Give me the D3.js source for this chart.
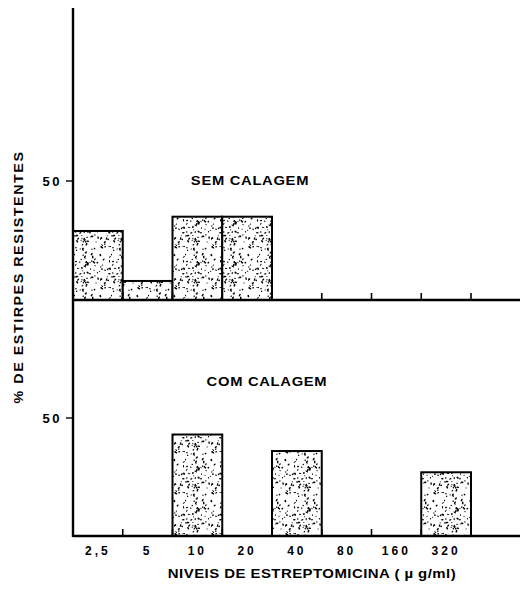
<!DOCTYPE html>
<html>
<head>
<meta charset="utf-8">
<script src="https://cdn.jsdelivr.net/npm/d3@7"></script>
<style>
  body { margin: 0; background: #fff; }
  svg text { font-family: "Liberation Sans", Arial, sans-serif; font-weight: bold; fill: #000; }
</style>
</head>
<body>
<svg id="chart" width="520" height="593"></svg>
<script>
// streptomycin levels (ug/ml)
const levels = ["2,5", "5", "10", "20", "40", "80", "160", "320"];
// % resistant strains, without liming
const semCalagem = [29, 8, 35, 35, 0, 0, 0, 0];
// % resistant strains, with liming
const comCalagem = [0, 0, 43, 0, 36, 0, 0, 27];
const yTicks = [50];

const svg = d3.select("#chart");

// stipple texture for the bars
const defs = svg.append("defs");
const pat = defs.append("pattern")
    .attr("id", "stipple")
    .attr("patternUnits", "userSpaceOnUse")
    .attr("width", 37).attr("height", 41);
pat.append("rect").attr("width", 37).attr("height", 41).attr("fill", "#fff");
const rnd = d3.randomLcg(0.37);
for (let i = 0; i < 95; i++) {
    const cx = rnd() * 37, cy = rnd() * 41;
    const w = 0.9 + rnd() * 2.2, h = 0.9 + rnd() * 0.9;
    pat.append("ellipse")
        .attr("cx", cx).attr("cy", cy)
        .attr("rx", w / 2).attr("ry", h / 2)
        .attr("transform", `rotate(${rnd() * 180},${cx},${cy})`)
        .attr("fill", "#000");
}

const x0 = 73, axisEnd = 520;
const x = d3.scaleBand().domain(levels).range([x0, 471]).padding(0);

const panels = [
    { values: semCalagem, y: d3.scaleLinear().domain([0, 50]).range([300, 181]), label: "SEM CALAGEM", lx: 250, ly: 181 },
    { values: comCalagem, y: d3.scaleLinear().domain([0, 50]).range([536, 418]), label: "COM CALAGEM", lx: 267, ly: 382 }
];

panels.forEach(p => {
    const g = svg.append("g");
    const base = p.y(0);

    // bars
    g.selectAll("rect.bar")
        .data(levels.map((l, i) => ({ l, v: p.values[i] })).filter(d => d.v > 0))
        .enter().append("rect")
        .attr("class", "bar")
        .attr("x", d => x(d.l))
        .attr("width", x.bandwidth())
        .attr("y", d => p.y(d.v))
        .attr("height", d => base - p.y(d.v))
        .attr("fill", "url(#stipple)")
        .attr("stroke", "#000")
        .attr("stroke-width", 2);

    // baseline
    g.append("line")
        .attr("x1", x0).attr("x2", axisEnd)
        .attr("y1", base).attr("y2", base)
        .attr("stroke", "#000").attr("stroke-width", 2.4);

    // small upward ticks at bin boundaries
    g.selectAll("line.tick")
        .data(levels.slice(1).map(l => x(l)).concat([x.range()[1]]))
        .enter().append("line")
        .attr("class", "tick")
        .attr("x1", d => d).attr("x2", d => d)
        .attr("y1", base).attr("y2", base - 7)
        .attr("stroke", "#000").attr("stroke-width", 1.6);

    // y ticks
    yTicks.forEach(t => {
        g.append("line")
            .attr("x1", x0 - 7).attr("x2", x0)
            .attr("y1", p.y(t)).attr("y2", p.y(t))
            .attr("stroke", "#000").attr("stroke-width", 1.4);
        g.append("text")
            .attr("x", 62).attr("y", p.y(t))
            .attr("dy", "0.36em")
            .attr("text-anchor", "end")
            .style("font-size", "13px")
            .style("letter-spacing", "2.5px")
            .text(t);
    });

    g.append("text")
        .attr("x", p.lx).attr("y", p.ly)
        .attr("dy", "0.36em")
        .attr("text-anchor", "middle")
        .style("font-size", "12.5px")
        .style("letter-spacing", "0.6px")
        .attr("transform", `translate(${p.lx},0) scale(1.18,1) translate(${-p.lx},0)`)
        .text(p.label);
});

// y axis line
svg.append("line")
    .attr("x1", x0).attr("x2", x0)
    .attr("y1", 8).attr("y2", 537)
    .attr("stroke", "#000").attr("stroke-width", 2.4);

// x tick labels
svg.selectAll("text.xl")
    .data(levels)
    .enter().append("text")
    .attr("class", "xl")
    .attr("x", d => x(d) + x.bandwidth() / 2)
    .attr("y", 551)
    .attr("dy", "0.36em")
    .attr("text-anchor", "middle")
    .style("font-size", "12px")
    .style("letter-spacing", "3px")
    .text(d => d);

// axis titles
svg.append("text")
    .attr("x", 312).attr("y", 573)
    .attr("dy", "0.36em")
    .attr("text-anchor", "middle")
    .style("font-size", "13px")
    .style("letter-spacing", "0.4px")
    .attr("transform", "translate(312,0) scale(1.15,1) translate(-312,0)")
    .text("NIVEIS DE ESTREPTOMICINA ( µ g/ml)");

svg.append("text")
    .attr("transform", "translate(18,277) rotate(-90) scale(1.1,1)")
    .attr("dy", "0.36em")
    .attr("text-anchor", "middle")
    .style("font-size", "13px")
    .style("letter-spacing", "1.4px")
    .text("% DE ESTIRPES RESISTENTES");
</script>
</body>
</html>
